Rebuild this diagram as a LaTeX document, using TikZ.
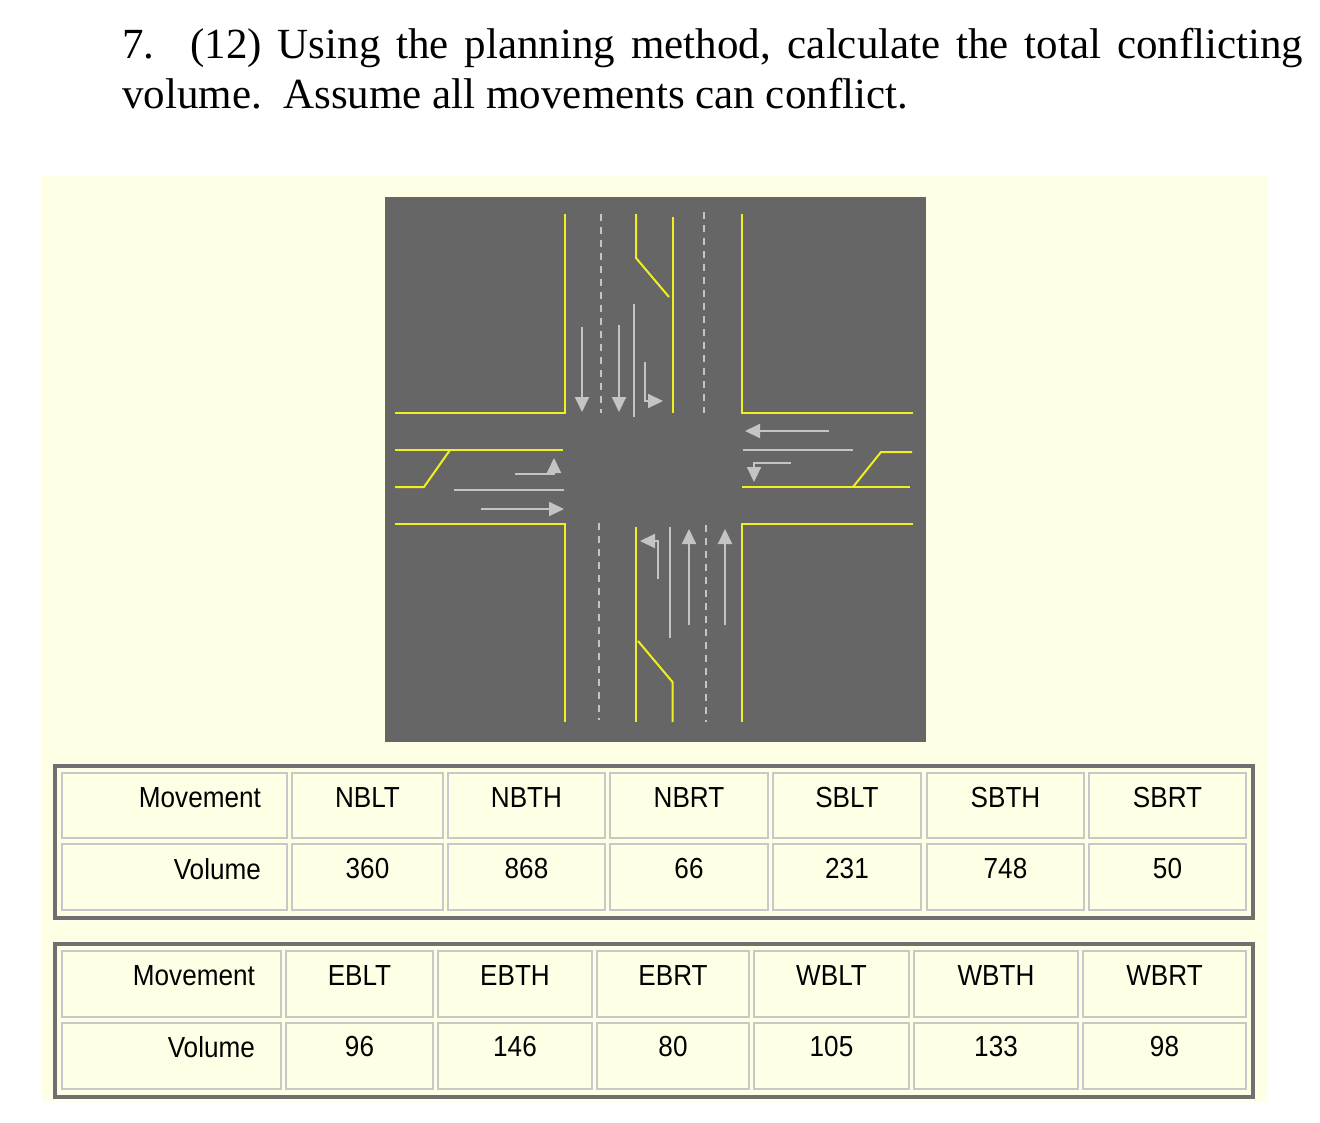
\documentclass[tikz,border=0pt]{standalone}
\usepackage{fontspec}
\setmainfont{Liberation Serif}
\newfontfamily\arialf{Liberation Sans}
\usetikzlibrary{arrows.meta}
\definecolor{bgy}{HTML}{FFFFE6}
\definecolor{road}{HTML}{666666}
\definecolor{yl}{HTML}{F0F020}
\definecolor{mk}{HTML}{C4C4C4}
\definecolor{frame}{HTML}{707070}
\definecolor{cellb}{HTML}{C8C8C8}
\tikzset{
 yline/.style={draw=yl,line width=2pt},
 dline/.style={draw=mk,line width=2pt,dash pattern=on 7pt off 6pt},
 gline/.style={draw=mk,line width=2pt},
 garrow/.style={draw=mk,line width=2pt,-{Triangle[length=15pt,width=14pt]}},
 cellbox/.style={draw=cellb,line width=2pt,fill=bgy},
 outer/.style={draw=frame,line width=3.5pt},
 tt/.style={font=\arialf\fontsize{29}{31}\selectfont,inner sep=0pt,xscale=0.9},
 ttl/.style={font=\fontsize{43}{48}\selectfont,inner sep=0pt,anchor=base west}
}
\begin{document}
\begin{tikzpicture}[x=1pt,y=-1pt]
\useasboundingbox (0,0) rectangle (1320,1122);
\fill[white] (0,0) rectangle (1320,1122);
\node[ttl] (t1) at (122,58) {\hbox to 1181pt{7.\hspace{36pt}(12) Using the planning method, calculate the total conflicting}};
\node[ttl] (t2) at (122,108) {volume.\ \ Assume all movements can conflict.};
\fill[bgy] (42,176) rectangle (1268,1102);
\fill[road] (385,197) rectangle (926,742);
% yellow
\draw[yline] (565,214) -- (565,413) -- (395,413);
\draw[yline] (742,214) -- (742,413) -- (913,413);
\draw[yline] (395,524) -- (565,524) -- (565,722);
\draw[yline] (913,524) -- (742,524) -- (742,722);
\draw[yline] (395,450) -- (563,450);
\draw[yline] (395,487) -- (424,487) -- (450,450);
\draw[yline] (912,452) -- (881,452) -- (853,487);
\draw[yline] (742,487) -- (910,487);
\draw[yline] (636,214) -- (636,258) -- (669,297);
\draw[yline] (672.5,217) -- (672.5,413);
\draw[yline] (636,527) -- (636,722);
\draw[yline] (672.5,722) -- (672.5,682) -- (638,641);
% dashed
\draw[dline] (601,214) -- (601,413);
\draw[dline] (704,212) -- (704,413);
\draw[dline] (599,523) -- (599,720);
\draw[dline] (706,525) -- (706,722);
% SB
\draw[garrow] (582,327) -- (582,412);
\draw[garrow] (619,325) -- (619,412);
\draw[gline] (634,304) -- (634,417);
\draw[garrow] (645,362) -- (645,401) -- (663,401);
% EB
\draw[gline] (454,490) -- (564,490);
\draw[garrow] (481,509) -- (564,509);
\draw[garrow] (515,474) -- (554,474) -- (554,458);
% WB
\draw[garrow] (829,431) -- (745,431);
\draw[gline] (743,450) -- (853,450);
\draw[garrow] (791,463) -- (754,463) -- (754,482);
% NB
\draw[garrow] (658,579) -- (658,541) -- (640,541);
\draw[gline] (670,527) -- (670,638);
\draw[garrow] (689,625) -- (689,529);
\draw[garrow] (725,625) -- (725,529);
% table 1
\draw[outer] (55,766) rectangle (1253,918);
\foreach \a/\b/\h/\v [count=\i] in {62/287/Movement/Volume,292/443/NBLT/360,448/605/NBTH/868,610/768/NBRT/66,773/921/SBLT/231,927/1084/SBTH/748,1089/1246/SBRT/50}{
  \draw[cellbox] (\a,773) rectangle (\b,838);
  \draw[cellbox] (\a,844) rectangle (\b,910);
  \ifnum\i=1
    \node[tt,anchor=east] (ah\i) at (\b-26,798) {\h};
    \node[tt,anchor=east] (av\i) at (\b-26,869) {\v};
  \else
    \node[tt] (ah\i) at ({(\a+\b)/2},798) {\h};
    \node[tt] (av\i) at ({(\a+\b)/2},869) {\v};
  \fi
}
% table 2
\draw[outer] (55,944) rectangle (1253,1097);
\foreach \a/\b/\h/\v [count=\i] in {62/281/Movement/Volume,286/433/EBLT/96,438/592/EBTH/146,597/749/EBRT/80,754/909/WBLT/105,914/1078/WBTH/133,1083/1246/WBRT/98}{
  \draw[cellbox] (\a,951) rectangle (\b,1017);
  \draw[cellbox] (\a,1023) rectangle (\b,1089);
  \ifnum\i=1
    \node[tt,anchor=east] (bh\i) at (\b-26,976) {\h};
    \node[tt,anchor=east] (bv\i) at (\b-26,1047) {\v};
  \else
    \node[tt] (bh\i) at ({(\a+\b)/2},976) {\h};
    \node[tt] (bv\i) at ({(\a+\b)/2},1047) {\v};
  \fi
}
\end{tikzpicture}
\end{document}
